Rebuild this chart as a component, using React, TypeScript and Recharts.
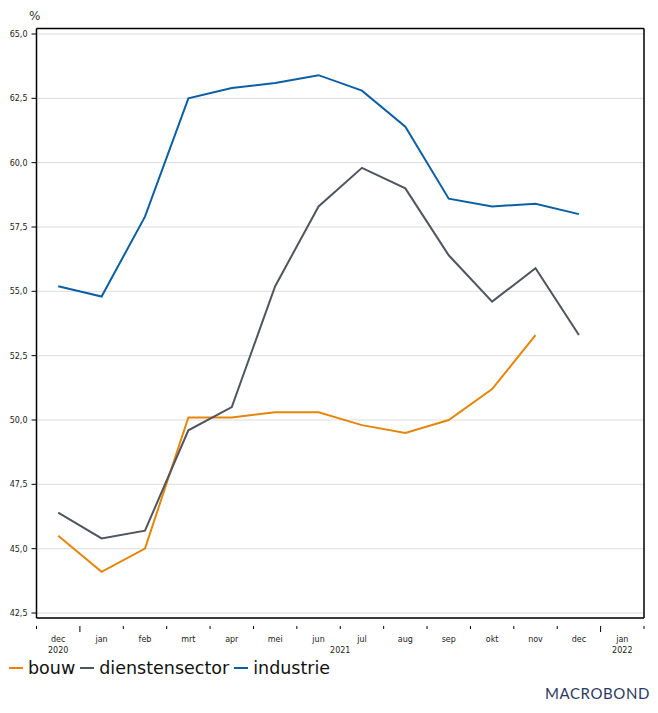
import React from "react";
import { LineChart, Line, XAxis, YAxis, CartesianGrid } from "recharts";

const monthLabels = ["dec", "jan", "feb", "mrt", "apr", "mei", "jun", "jul", "aug", "sep", "okt", "nov", "dec", "jan"];
const yearLabels: Record<number, string> = { 0: "2020", 6.5: "2021", 13: "2022" };
const bouw = [45.5, 44.1, 45.0, 50.1, 50.1, 50.3, 50.3, 49.8, 49.5, 50.0, 51.2, 53.3, null];
const dienstensector = [46.4, 45.4, 45.7, 49.6, 50.5, 55.2, 58.3, 59.8, 59.0, 56.4, 54.6, 55.9, 53.3];
const industrie = [55.2, 54.8, 57.9, 62.5, 62.9, 63.1, 63.4, 62.8, 61.4, 58.6, 58.3, 58.4, 58.0];
const yTicks = [42.5, 45, 47.5, 50, 52.5, 55, 57.5, 60, 62.5, 65];
const boundaries = [-0.5, 0.5, 1.5, 2.5, 3.5, 4.5, 5.5, 6.5, 7.5, 8.5, 9.5, 10.5, 11.5, 12.5, 13.5];
const yearBoundaries = [0.5, 12.5];

const series = [
  { key: "bouw", color: "#E5860A" },
  { key: "dienstensector", color: "#4F565E" },
  { key: "industrie", color: "#0B5FA5" },
];

const data = industrie.map((_, i) => ({
  x: i,
  bouw: bouw[i],
  dienstensector: dienstensector[i],
  industrie: industrie[i],
}));

const FONT = "DejaVu Sans, Verdana, sans-serif";
const MONTH_W = (644 - 36.5) / 14;

const XTick = (props: any) => {
  const { x, y, payload } = props;
  const v = payload.value as number;
  const long = yearBoundaries.includes(v);
  const idx = v + 0.5;
  const label = idx < monthLabels.length ? monthLabels[idx] : null;
  const year = yearLabels[idx];
  const midYear = Math.abs(v - 6.5) < 1e-6 ? yearLabels[6.5] : null;
  return (
    <g>
      <line x1={x} x2={x} y1={y} y2={y + (long ? 6 : 3)} stroke="#000" strokeWidth={1} />
      {label && (
        <text x={x + MONTH_W / 2} y={y + 16} textAnchor="middle" fontSize={8} fontFamily={FONT} fill="#222">
          {label}
        </text>
      )}
      {year && (
        <text x={x + MONTH_W / 2} y={y + 27} textAnchor="middle" fontSize={8} fontFamily={FONT} fill="#222">
          {year}
        </text>
      )}
      {midYear && (
        <text x={x} y={y + 27} textAnchor="middle" fontSize={8} fontFamily={FONT} fill="#222">
          {midYear}
        </text>
      )}
    </g>
  );
};

const fmt = (v: number) => v.toFixed(1).replace(".", ",");

export default function App() {
  return (
    <div style={{ position: "absolute", left: 0, top: 0, width: 658, height: 713, background: "#fff" }}>
      <div style={{ position: "absolute", left: 29, top: 9, fontFamily: FONT, fontSize: 12, color: "#333" }}>%</div>
      <LineChart
        width={658}
        height={658}
        data={data}
        margin={{ top: 27.5, right: 13, bottom: 0, left: 0 }}
      >
        <CartesianGrid horizontal vertical={false} stroke="#dcdcdc" />
        <XAxis
          dataKey="x"
          type="number"
          domain={[-0.5, 13.5]}
          ticks={boundaries}
          interval={0}
          tick={<XTick />}
          tickLine={false}
          axisLine={{ stroke: "#000", strokeWidth: 1.5 }}
          height={40}
          allowDataOverflow
        />
        <XAxis
          xAxisId="top"
          orientation="top"
          dataKey="x"
          type="number"
          domain={[-0.5, 13.5]}
          ticks={[]}
          tick={false}
          tickLine={false}
          axisLine={{ stroke: "#000", strokeWidth: 1.5 }}
          height={1}
        />
        <YAxis
          type="number"
          domain={[42.5, 65]}
          ticks={yTicks}
          interval={0}
          tickFormatter={fmt}
          width={36.5}
          tickSize={5}
          tickMargin={4}
          tick={{ fontSize: 8, fontFamily: FONT, fill: "#222" }}
          tickLine={{ stroke: "#000" }}
          axisLine={{ stroke: "#000", strokeWidth: 1.5 }}
          padding={{ top: 5.5, bottom: 5 }}
        />
        <YAxis
          yAxisId="right"
          orientation="right"
          type="number"
          domain={[42.5, 65]}
          ticks={[]}
          tick={false}
          tickLine={false}
          axisLine={{ stroke: "#000", strokeWidth: 1.5 }}
          width={1}
        />
        {series.map((s) => (
          <Line
            key={s.key}
            dataKey={s.key}
            stroke={s.color}
            strokeWidth={2}
            dot={false}
            activeDot={false}
            isAnimationActive={false}
            connectNulls={false}
            type="linear"
          />
        ))}
      </LineChart>
      <div
        style={{
          position: "absolute",
          left: 9,
          top: 658,
          display: "flex",
          alignItems: "center",
          fontFamily: FONT,
          fontSize: 17.5,
          color: "#111",
        }}
      >
        {series.map((s) => (
          <div key={s.key} style={{ display: "flex", alignItems: "center", marginRight: 5 }}>
            <span style={{ display: "inline-block", width: 14, height: 2, background: s.color, marginRight: 5 }} />
            <span>{s.key}</span>
          </div>
        ))}
      </div>
      <div
        style={{
          position: "absolute",
          right: 8,
          top: 684,
          fontFamily: "Lato, Open Sans, sans-serif",
          fontSize: 15,
          letterSpacing: 0.6,
          color: "#2C3A63",
        }}
      >
        MACROBOND
      </div>
    </div>
  );
}
